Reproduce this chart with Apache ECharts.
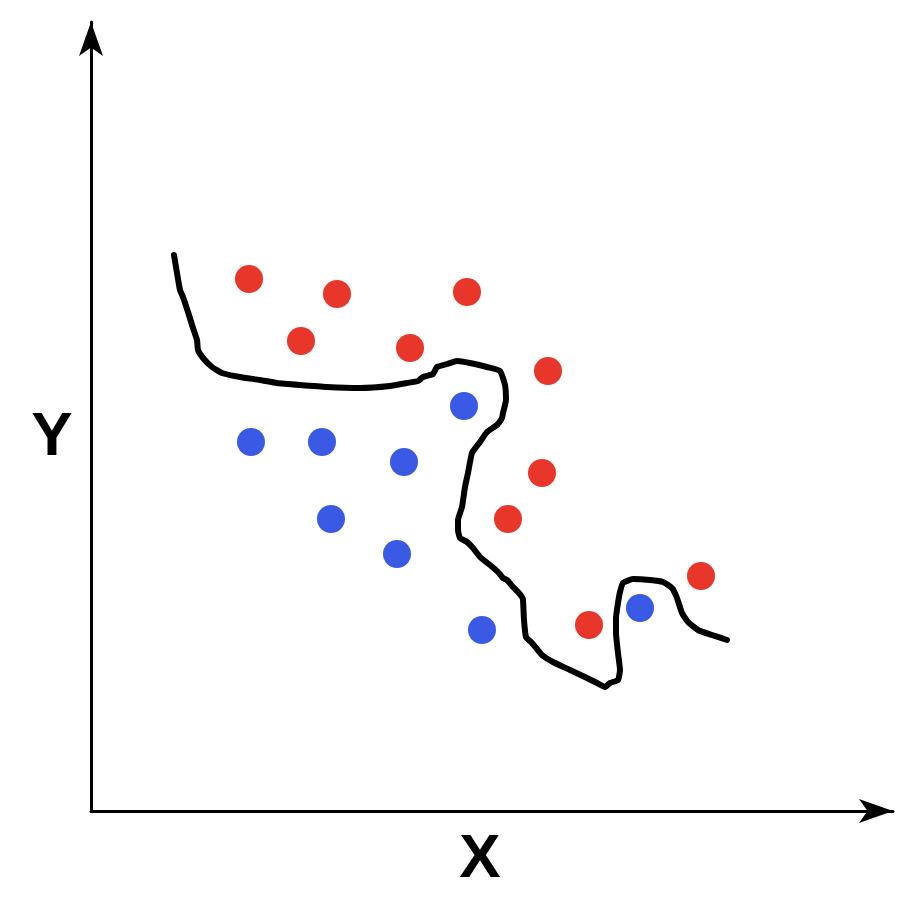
<!DOCTYPE html>
<html>
<head>
<meta charset="utf-8">
<script src="https://cdn.jsdelivr.net/npm/echarts@6/dist/echarts.min.js"></script>
<style>html,body{margin:0;padding:0;background:#fff}#c{width:916px;height:918px}</style>
</head>
<body>
<div id="c"></div>
<script>
// Data (units: x 0..802, y 0..789)
const redX = [158, 246, 376, 210, 319, 457, 451, 417, 498, 610];
const redY = [532, 517, 519, 470, 463, 440, 338, 292, 186, 235];
const blueX = [373, 160, 231, 313, 240, 306, 391, 549];
const blueY = [405, 369, 369, 349, 292, 257, 181, 203];
const curveX = [83, 86, 89, 92, 97, 102, 106, 107, 112, 121, 131, 149, 169, 186, 209, 236, 269, 299, 316, 327, 332, 342, 346, 356, 366, 379, 396, 409, 414, 415, 412, 411, 406, 396, 389, 381, 377, 374, 371, 367, 367, 369, 376, 382, 389, 399, 407, 412, 416, 422, 427, 431, 432, 433, 435, 441, 451, 462, 479, 496, 506, 514, 519, 527, 529, 527, 525, 525, 527, 529, 532, 542, 559, 572, 581, 586, 591, 597, 607, 621, 636];
const curveY = [556, 538, 521, 514, 499, 483, 471, 461, 453, 444, 438, 434, 431, 428, 426, 424, 423, 425, 428, 430, 434, 437, 444, 447, 450, 448, 444, 440, 426, 411, 398, 393, 386, 379, 369, 358, 338, 324, 304, 291, 281, 273, 269, 263, 254, 246, 239, 233, 231, 224, 219, 214, 211, 191, 174, 168, 156, 149, 141, 133, 128, 124, 128, 131, 141, 158, 178, 193, 208, 219, 228, 232, 231, 229, 223, 213, 198, 189, 181, 176, 171];
const xLabel = 'X';
const yLabel = 'Y';

const red = '#E8362A';
const blue = '#3A5AE6';

const chart = echarts.init(document.getElementById('c'));
chart.setOption({
  animation: false,
  backgroundColor: '#fff',
  grid: { left: 91, top: 22, right: 23, bottom: 107, containLabel: false },
  xAxis: {
    type: 'value', min: 0, max: 802,
    axisLine: { show: true, symbol: ['none', 'arrow'], symbolSize: [18, 34], symbolOffset: [0, 0], lineStyle: { color: '#000', width: 3 } },
    axisTick: { show: false }, axisLabel: { show: false }, splitLine: { show: false }
  },
  yAxis: {
    type: 'value', min: 0, max: 789,
    axisLine: { show: true, symbol: ['none', 'arrow'], symbolSize: [18, 34], symbolOffset: [0, 0], lineStyle: { color: '#000', width: 3 } },
    axisTick: { show: false }, axisLabel: { show: false }, splitLine: { show: false }
  },
  graphic: [
    { type: 'text', x: 52, y: 438, style: { text: yLabel, font: 'bold 62px "Liberation Sans", Arial, sans-serif', fill: '#000', align: 'center', verticalAlign: 'middle' } },
    { type: 'text', x: 480, y: 860, style: { text: xLabel, font: 'bold 62px "Liberation Sans", Arial, sans-serif', fill: '#000', align: 'center', verticalAlign: 'middle' } }
  ],
  series: [
    {
      type: 'line', data: curveX.map((x, i) => [x, curveY[i]]),
      showSymbol: false, smooth: 0.15, lineStyle: { color: '#000', width: 6, cap: 'round', join: 'round' }, z: 1
    },
    {
      type: 'scatter', data: redX.map((x, i) => [x, redY[i]]), symbolSize: 28,
      itemStyle: { color: red, opacity: 1 }, z: 3
    },
    {
      type: 'scatter', data: blueX.map((x, i) => [x, blueY[i]]), symbolSize: 28,
      itemStyle: { color: blue, opacity: 1 }, z: 3
    }
  ]
});
</script>
</body>
</html>
